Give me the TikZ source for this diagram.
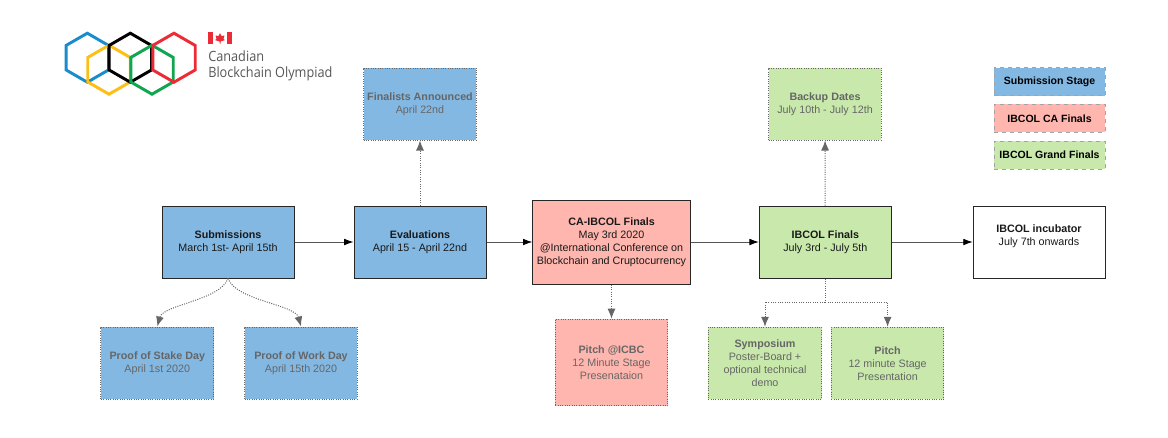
\documentclass[tikz,border=0pt]{standalone}
\usepackage{fontspec}
\setmainfont{Liberation Sans}
\newfontfamily\logofont[FakeStretch=0.9]{Open Sans}
\usetikzlibrary{arrows.meta, positioning, calc}
\definecolor{stageblue}{HTML}{83B8E3}
\definecolor{stagered}{HTML}{FFB6AE}
\definecolor{stagegreen}{HTML}{C8E8AC}
\definecolor{subgrey}{HTML}{666666}
\definecolor{linedark}{HTML}{555555}
\definecolor{ringblue}{HTML}{1A8BCB}
\definecolor{ringyellow}{HTML}{FDBE15}
\definecolor{ringgreen}{HTML}{10A650}
\definecolor{ringred}{HTML}{ED2B36}
\tikzset{
    mainbox/.style={draw=black!85, line width=0.75pt, align=center, inner sep=0pt, text=black!90,
        font=\fontsize{8.05}{9.75}\selectfont},
    subbox/.style={draw=subgrey, densely dotted, line width=0.75pt, align=center, inner sep=0pt, text=subgrey,
        font=\fontsize{8.05}{9.75}\selectfont},
    keybox/.style={draw=subgrey!60, dashed, line width=0.5pt, align=center, inner sep=0pt, text=black,
        font=\bfseries\fontsize{7.9}{9.5}\selectfont, minimum width=83.25pt, minimum height=21pt},
    mainarrow/.style={draw=linedark, line width=0.6pt, -{Latex[length=7pt,width=5pt,color=black]}},
    subline/.style={draw=subgrey, densely dotted, line width=0.75pt},
    subarrow/.style={subline, -{Latex[length=7.5pt,width=6pt,color=subgrey]}}
}
\def\hexring#1#2#3{
    \draw[#3, line width=2.2pt, line join=miter] (#1,#2) ++(90:24.5) -- ++(-30:24.5) -- ++(-90:24.5) -- ++(-150:24.5) -- ++(150:24.5) -- ++(90:24.5) -- cycle;
}
\begin{document}
\begin{tikzpicture}[x=0.75pt, y=-0.75pt]
    \useasboundingbox (0,0) rectangle (1168,437);

    % Logo rings
    \hexring{87.3}{57.7}{ringblue}
    \hexring{109}{69.7}{ringyellow}
    \hexring{130.3}{57.7}{black}
    \hexring{152}{69.7}{ringgreen}
    \hexring{174}{57.7}{ringred}

    % Flag
    \fill[ringred] (208,32) rectangle (213,44);
    \fill[ringred] (227,32) rectangle (232,44);
    \fill[ringred] (220,33) -- (221.5,36) -- (224.5,35.5) -- (223.5,39) -- (225,40) -- (220.5,41.5) -- (220.5,43.5) -- (219.5,43.5) -- (219.5,41.5) -- (215,40) -- (216.5,39) -- (215.5,35.5) -- (218.5,36) -- cycle;

    % Logo text
    \node[anchor=west, inner sep=0pt, text=subgrey!85!black, font=\logofont\fontsize{10.6}{12}\selectfont] (logoa) at (208,56) {Canadian};
    \node[anchor=west, inner sep=0pt, text=subgrey!85!black, font=\logofont\fontsize{10.6}{12}\selectfont] (logob) at (208,74) {Blockchain Olympiad};

    % Main stages
    \node[mainbox, fill=stageblue, minimum width=99pt, minimum height=54pt] (submissions) at (228,242) {\textbf{Submissions}\\March 1st- April 15th};
    \node[mainbox, fill=stageblue, minimum width=99pt, minimum height=54pt] (evaluations) at (420,242) {\textbf{Evaluations}\\April 15 - April 22nd};
    \node[mainbox, fill=stagered, minimum width=118pt, minimum height=63pt] (cafinals) at (611.5,242) {\textbf{CA-IBCOL Finals}\\May 3rd 2020\\@International Conference on\\Blockchain and Cruptocurrency};
    \node[mainbox, fill=stagegreen, minimum width=99pt, minimum height=54pt] (finals) at (825.3,242) {\textbf{IBCOL Finals}\\July 3rd - July 5th};
    \node[mainbox, fill=white, line width=0.5pt, minimum width=99pt, minimum height=54pt] (incubator) at (1039,242) {\textbf{IBCOL incubator}\\July 7th onwards\\\mbox{}};

    % Side events
    \node[subbox, fill=stageblue, minimum width=84.5pt, minimum height=54pt] (announced) at (420,104) {\textbf{Finalists Announced}\\April 22nd};
    \node[subbox, fill=stagegreen, minimum width=84.5pt, minimum height=54pt] (backup) at (825,104) {\textbf{Backup Dates}\\July 10th - July 12th};
    \node[subbox, fill=stageblue, minimum width=84.5pt, minimum height=54pt] (stakeday) at (157.3,363) {\textbf{Proof of Stake Day}\\April 1st 2020};
    \node[subbox, fill=stageblue, minimum width=84.5pt, minimum height=54pt] (workday) at (301,363) {\textbf{Proof of Work Day}\\April 15th 2020};
    \node[subbox, fill=stagered, minimum width=84.5pt, minimum height=65pt] (pitchicbc) at (611.5,362.5) {\textbf{Pitch @ICBC}\\12 Minute Stage\\Presenataion};
    \node[subbox, fill=stagegreen, minimum width=85pt, minimum height=54pt] (symposium) at (765,363.3) {\textbf{Symposium}\\Poster-Board +\\optional technical\\demo};
    \node[subbox, fill=stagegreen, minimum width=84.5pt, minimum height=54pt] (pitch) at (887.6,363.3) {\textbf{Pitch}\\12 minute Stage\\Presentation};

    % Legend
    \node[keybox, fill=stageblue] (keyblue) at (1049.5,81.7) {Submission Stage};
    \node[keybox, fill=stagered] (keyred) at (1049.5,118.3) {IBCOL CA Finals};
    \node[keybox, fill=stagegreen] (keygreen) at (1049.5,154.9) {IBCOL Grand Finals};

    % Main flow
    \draw[mainarrow] (submissions) -- (evaluations);
    \draw[mainarrow] (evaluations) -- (cafinals);
    \draw[mainarrow] (cafinals) -- (finals);
    \draw[mainarrow] (finals) -- (incubator);

    % Dotted branches
    \draw[subarrow] (evaluations) -- (announced);
    \draw[subarrow] (finals) -- (backup);
    \draw[subarrow] (cafinals) -- (pitchicbc);
    \draw[subarrow] (submissions.south) .. controls +(-8,22) and +(6,-22) .. (stakeday.north);
    \draw[subarrow] (submissions.south) .. controls +(8,22) and +(-6,-22) .. (workday.north);
    \coordinate (finalsfork) at (825.3,302);
    \draw[subline] (finals.south) -- (finalsfork);
    \draw[subarrow] (finalsfork) -| (symposium.north);
    \draw[subarrow] (finalsfork) -| (pitch.north);
\end{tikzpicture}
\end{document}
